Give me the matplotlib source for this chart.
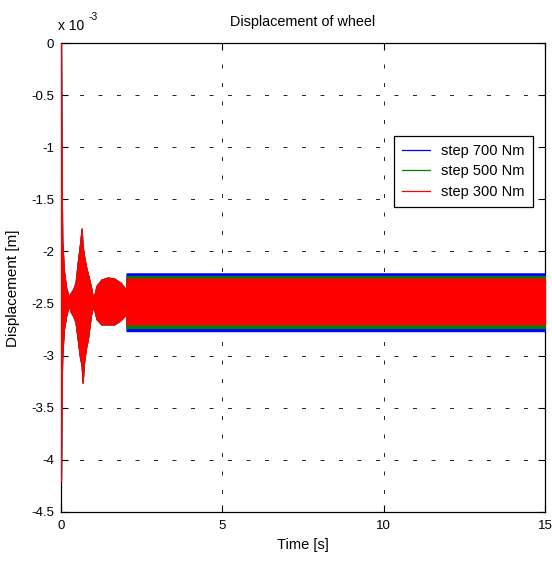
import numpy as np
import matplotlib.pyplot as plt

plt.rcParams['font.family'] = ['Liberation Sans', 'DejaVu Sans']
plt.rcParams['font.size'] = 10

# transient envelope (all three responses overlap here), displacement in 1e-3 m
t_trans = [0.0, 0.02, 0.04, 0.09, 0.16, 0.24, 0.30, 0.38, 0.45, 0.52, 0.58,
           0.64, 0.67, 0.72, 0.78, 0.83, 0.93, 1.00, 1.10, 1.25, 1.45, 1.65,
           1.85, 2.02]
upper_trans = [0.0, -1.30, -1.90, -2.18, -2.35, -2.43, -2.40, -2.36, -2.30,
               -2.10, -1.95, -1.78, -1.95, -2.05, -2.15, -2.21, -2.34, -2.46,
               -2.33, -2.27, -2.25, -2.26, -2.30, -2.37]
lower_trans = [-4.20, -3.30, -3.00, -2.75, -2.62, -2.52, -2.58, -2.62, -2.68,
               -2.85, -3.00, -3.10, -3.26, -3.05, -2.92, -2.85, -2.61, -2.52,
               -2.65, -2.70, -2.70, -2.70, -2.66, -2.60]

# steady oscillation band from ~2 s to the end
t_steady = [2.03, 15.0]
labels = ['step 700 Nm', 'step 500 Nm', 'step 300 Nm']
colors = ['#0000ff', '#008000', '#ff0000']
band_top = [-2.21, -2.235, -2.26]
band_bottom = [-2.765, -2.735, -2.70]

fig = plt.figure(figsize=(5.52, 5.61), dpi=100)
ax = fig.add_axes([61/552, 1-512/561, 484/552, 469/561])

for lab, col, top, bot in zip(labels, colors, band_top, band_bottom):
    t = np.concatenate([t_trans, t_steady])
    up = np.concatenate([upper_trans, [top, top]])
    lo = np.concatenate([lower_trans, [bot, bot]])
    ax.fill_between(t, lo, up, facecolor=col, edgecolor=col, lw=0.8,
                    zorder=3)
    ax.plot([], [], color=col, lw=0.9, label=lab)

ax.set_xlim(0, 15)
ax.set_ylim(-4.5, 0)
ax.set_xticks([0, 5, 10, 15])
yt = np.arange(0, -4.51, -0.5)
ax.set_yticks(yt)
ax.set_yticklabels(['%g' % v if v != 0 else '0' for v in yt])
ax.tick_params(direction='in', top=True, right=True, length=5, width=0.8,
               labelsize=9.5)
ax.tick_params(axis='x', pad=6)
ax.tick_params(axis='y', pad=5)
for s in ax.spines.values():
    s.set_linewidth(0.9)
ax.grid(True, color='k', lw=0.6, linestyle=(0, (4.8, 17.4)))

ax.set_title('Displacement of wheel', pad=12, fontsize=10.4)
ax.set_xlabel('Time [s]', labelpad=4, fontsize=10.5)
ax.set_ylabel('Displacement [m]', labelpad=6, fontsize=11)
ax.yaxis.set_label_coords(-0.085, 0.478)
ax.text(-0.006, 1.022, 'x 10', transform=ax.transAxes, ha='left', va='bottom')
ax.text(0.056, 1.045, '-3', transform=ax.transAxes, ha='left', va='bottom',
        fontsize=7.5)

leg = ax.legend(loc='upper right', bbox_to_anchor=(0.975, 0.802),
                frameon=True, fancybox=False, edgecolor='k', framealpha=1,
                handlelength=1.9, borderpad=0.55, labelspacing=0.45,
                borderaxespad=0, fontsize=10.5)
leg.get_frame().set_linewidth(0.9)

fig.savefig('out.png', dpi=100)
